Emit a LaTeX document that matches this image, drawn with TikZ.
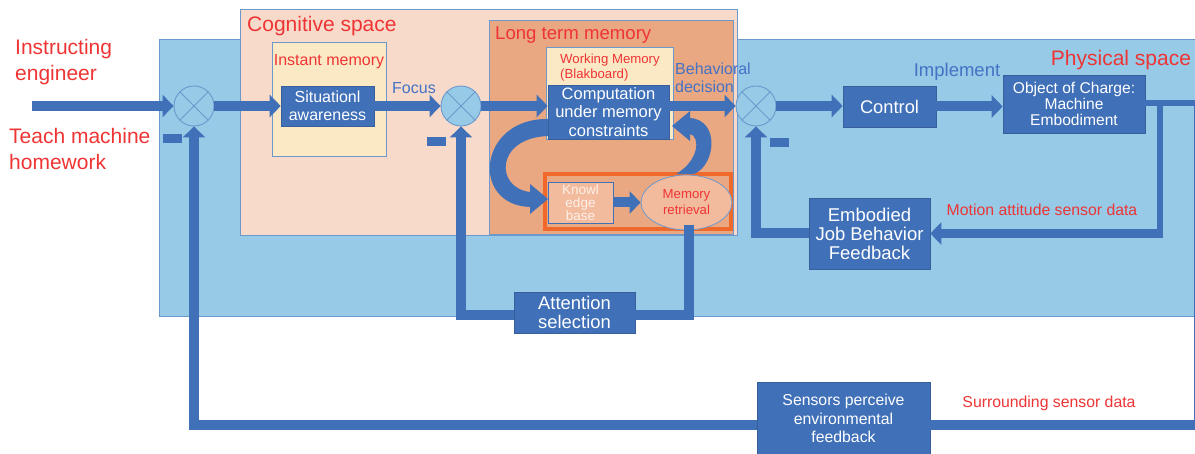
\documentclass[tikz,border=0pt]{standalone}
\usepackage{fontspec}
\setmainfont{Liberation Sans}
\usetikzlibrary{arrows.meta,calc,shapes.geometric}

\definecolor{bgblue}{RGB}{150,202,231}
\definecolor{bgedge}{RGB}{108,152,204}
\definecolor{dblue}{RGB}{64,112,184}
\definecolor{cogpeach}{RGB}{248,218,203}
\definecolor{ltm}{RGB}{233,168,130}
\definecolor{cream}{RGB}{251,233,197}
\definecolor{kbfill}{RGB}{243,187,158}
\definecolor{orng}{RGB}{240,105,42}
\definecolor{redtxt}{RGB}{238,52,52}
\definecolor{bluetxt}{RGB}{68,114,196}
\definecolor{kbtxt}{RGB}{253,240,232}

\newcommand{\myfs}[2]{\fontsize{#1}{#2}\selectfont}

\begin{document}
\begin{tikzpicture}[x=1pt,y=-1pt,
  region/.style={draw=bgedge,line width=0.8pt},
  box/.style={rectangle,fill=dblue,draw=dblue!85!black,line width=0.6pt,
    text=white,align=center,inner sep=0pt},
  junc/.style={circle,fill=bgblue,draw=bgedge,line width=0.9pt,
    minimum size=40pt,inner sep=0pt},
  minus/.style={rectangle,fill=dblue,inner sep=0pt,minimum width=19pt,minimum height=9pt},
  blk/.style={dblue,line width=10pt,line join=miter,
    -{Triangle[width=22pt,length=11pt]}},
  bar/.style={dblue,line width=10pt,line join=miter},
  thinbar/.style={dblue,line width=6pt,line join=miter},
  redlbl/.style={text=redtxt,inner sep=0pt},
  bluelbl/.style={text=bluetxt,inner sep=0pt}]

\useasboundingbox (0,0) rectangle (1195,454);
\clip (0,0) rectangle (1195,454);

% nested regions
\filldraw[region,fill=bgblue] (159,39) rectangle (1215,316);
\filldraw[region,fill=cogpeach] (240,9) rectangle (737,235);
\filldraw[region,fill=ltm] (489,20) rectangle (733,234);
\filldraw[region,fill=cream] (272,42) rectangle (386,156);
\filldraw[region,fill=cream] (546,47) rectangle (673,139);
\draw[orng,line width=4pt] (545,174) rectangle (731,229);

% region titles and free labels
\node[redlbl,anchor=west,align=left,font=\myfs{21}{26}] (tInstr) at (15,62) {Instructing\\engineer};
\node[redlbl,anchor=west,align=left,font=\myfs{21}{26}] (tTeach) at (9,149) {Teach machine\\homework};
\node[redlbl,anchor=west,font=\myfs{21}{25}] (tCog) at (247,26) {Cognitive space};
\node[redlbl,anchor=west,font=\myfs{18.6}{22}] (tLtm) at (495,35) {Long term memory};
\node[redlbl,font=\myfs{16}{19}] (tInst) at (329,62) {Instant memory};
\node[redlbl,anchor=west,align=left,font=\myfs{13.2}{15}] (tWork) at (560,68) {Working Memory\\(Blakboard)};
\node[redlbl,font=\myfs{21}{25}] (tPhys) at (1121,60) {Physical space};
\node[redlbl,font=\myfs{15.8}{19}] (tMot) at (1042,210) {Motion attitude sensor data};
\node[redlbl,font=\myfs{15.8}{19}] (tSur) at (1049,403) {Surrounding sensor data};
\node[bluelbl,font=\myfs{16}{19}] (tFocus) at (414,88) {Focus};
\node[bluelbl,anchor=west,align=left,font=\myfs{16}{18.3}] (tBeh) at (675,78) {Behavioral\\decision};
\node[bluelbl,font=\myfs{18.5}{22}] (tImpl) at (957,72) {Implement};

% blocks
\node[box,minimum width=93pt,minimum height=40pt,font=\myfs{16}{18.3}] (sa) at (327.5,106) {Situationl\\awareness};
\node[box,minimum width=121pt,minimum height=54pt,font=\myfs{16.5}{18.3}] (comp) at (608.5,112) {Computation\\under memory\\constraints};
\node[box,minimum width=93pt,minimum height=41pt,font=\myfs{18.3}{21}] (ctl) at (889.5,106.5) {Control};
\node[box,minimum width=142pt,minimum height=58pt,font=\myfs{15.6}{15.6}] (obj) at (1074,104) {Object of Charge:\\Machine\\Embodiment};
\node[box,minimum width=121pt,minimum height=71pt,font=\myfs{18.5}{19}] (emb) at (869.5,233.5) {Embodied\\Job Behavior\\Feedback};
\node[box,minimum width=121pt,minimum height=41pt,font=\myfs{18.4}{19}] (att) at (574.5,312.5) {Attention\\selection};
\node[box,minimum width=173pt,minimum height=73pt,font=\myfs{15.8}{18.7}] (sen) at (843.5,418.5) {Sensors perceive\\environmental\\feedback};
\node[rectangle,fill=kbfill,draw=dblue,line width=0.8pt,text=kbtxt,align=center,inner sep=0pt,
  minimum width=65pt,minimum height=41pt,font=\myfs{13.5}{13.3}] (kb) at (580.5,202.5) {Knowl\\edge\\base};
\node[ellipse,fill=kbfill,draw=bgedge,line width=0.8pt,text=redtxt,align=center,inner sep=0pt,
  minimum width=91pt,minimum height=55pt,font=\myfs{13.2}{16}] (mr) at (686.5,202.5) {Memory\\retrieval};

% summing junctions
\node[junc] (j1) at (194,106) {};
\node[junc] (j2) at (461,106) {};
\node[junc] (j3) at (756,106) {};
\foreach \j in {j1,j2,j3}
  \draw[bgedge,line width=0.8pt] (\j.45) -- (\j.225) (\j.135) -- (\j.315);
\node[minus] (m1) at (172.5,138.5) {};
\node[minus] (m2) at (436.5,141.5) {};
\node[minus] (m3) at (779,143) {};

% forward path
\coordinate (inp) at (32,106);
\draw[blk] (inp) -- (j1.west);
\draw[blk] (j1.east) -- (sa.west |- j1.east);
\draw[blk] (sa.east |- j2.west) -- (j2.west);
\draw[blk] (j2.east) -- (comp.west |- j2.east);
\draw[blk] (comp.east |- j3.west) -- (j3.west);
\draw[blk] (j3.east) -- (ctl.west |- j3.east);
\draw[blk] (ctl.east) -- (obj.west |- ctl.east);

% motion feedback loop
\coordinate (tap) at (1123,103);
\coordinate (tapR) at (1199,103);
\coordinate (mv1) at (1160,103);
\coordinate (mv2) at (1160,233.5);
\draw[thinbar] (tap) -- (tapR);
\draw[thinbar] (mv1) -- (mv2);
\draw[blk,line width=9pt] ($(mv2)+(3,0)$) -- (emb.east |- mv2);
\draw[blk] (emb.west) -- (j3.south |- emb.west) -- (j3.south);

% environmental feedback loop
\coordinate (sb) at (1199,425);
\draw[bar] (tapR) -- (sb) -- (sen.east |- sb);
\draw[blk] (sen.west |- sb) -- (j1.south |- sb) -- (j1.south);

% attention loop
\coordinate (mrb) at (689,225);
\coordinate (ab) at (689,315);
\draw[bar] (mrb) -- (ab) -- (att.east |- ab);
\draw[blk] (att.west |- ab) -- (j2.south |- ab) -- (j2.south);

% knowledge base to retrieval
\draw[blk] (kb.east) -- (mr.west);

% curved arrow: computation down to knowledge base
\fill[dblue] (548,119) .. controls (478,118) and (470,205) .. (530,207)
  -- (530,214) -- (548,199) -- (530,184) -- (530,192)
  .. controls (495,188) and (495,138) .. (548,136) -- cycle;
% curved arrow: retrieval back up to computation
\fill[dblue] (694,174) .. controls (716,165) and (720,120) .. (690,118)
  -- (690,111) -- (672,126) -- (690,141) -- (690,134)
  .. controls (700,136) and (700,160) .. (676,174) -- cycle;

\end{tikzpicture}
\end{document}
